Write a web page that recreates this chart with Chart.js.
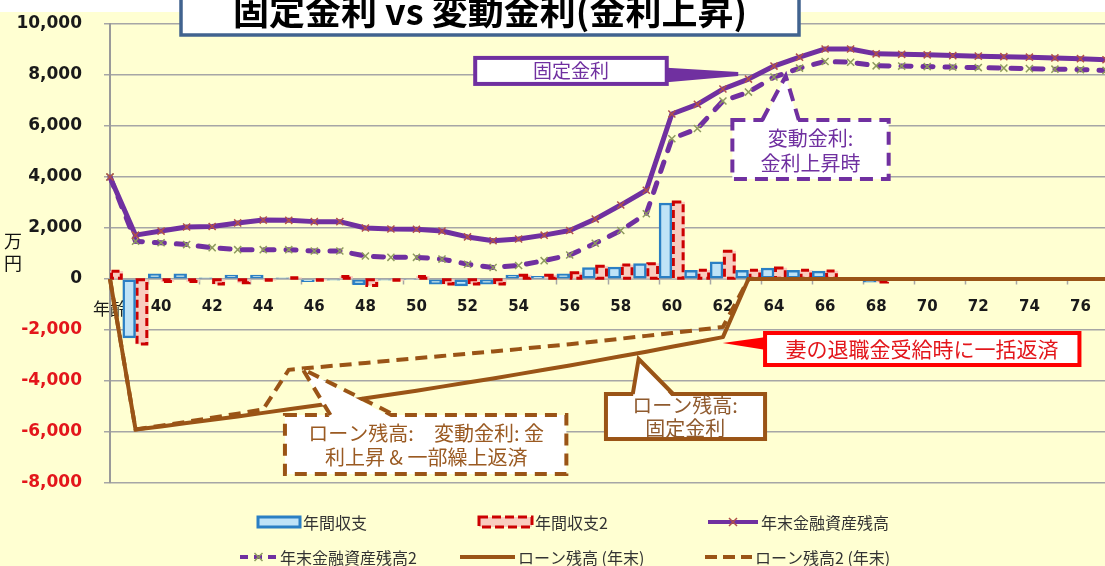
<!DOCTYPE html>
<html lang="ja">
<head>
<meta charset="utf-8">
<script src="https://cdn.jsdelivr.net/npm/chart.js@4.4.1/dist/chart.umd.min.js"></script>
<style>
  html, body { margin: 0; padding: 0; background: #fff; overflow: hidden; }
  #wrap { width: 1105px; height: 566px; overflow: hidden; position: relative; }
  canvas { display: block; }
</style>
</head>
<body>
<div id="wrap"><canvas id="chart" width="1120" height="566"></canvas></div>
<script>
// ages 38..77 (first category is the "年齢" heading)
const ageLabels = ['年齢', '39', '40', '41', '42', '43', '44', '45', '46', '47',
  '48', '49', '50', '51', '52', '53', '54', '55', '56', '57',
  '58', '59', '60', '61', '62', '63', '64', '65', '66', '67',
  '68', '69', '70', '71', '72', '73', '74', '75', '76', '77'];

// 年間収支 (万円)
const balance = [300, -2310, 200, 200, 50, 150, 150, 50, -100, -50,
  -220, -50, -30, -200, -270, -200, 150, 100, 200, 450,
  470, 600, 2980, 340, 670, 340, 430, 340, 310, 0,
  -120, 0, 0, 0, 0, 0, 0, 0, 0, 0];
// 年間収支2
const balance2 = [300, -2550, -100, -100, -200, -150, -50, 50, -50, 100,
  -250, -50, 100, -200, -200, -200, 150, 150, 250, 500,
  550, 600, 3020, 340, 1090, 340, 430, 340, 310, 0,
  -120, 0, 0, 0, 0, 0, 0, 0, 0, 0];
// 年末金融資産残高
const assets = [4000, 1720, 1880, 2040, 2060, 2200, 2310, 2300, 2250, 2250,
  2000, 1960, 1950, 1880, 1650, 1500, 1570, 1720, 1900, 2350,
  2900, 3480, 6470, 6850, 7450, 7840, 8350, 8700, 9020, 9020,
  8830, 8810, 8790, 8760, 8740, 8720, 8700, 8670, 8640, 8600];
// 年末金融資産残高2
const assets2 = [4000, 1480, 1420, 1350, 1230, 1150, 1150, 1150, 1100, 1100,
  900, 850, 850, 780, 580, 450, 530, 720, 940, 1400,
  1900, 2560, 5500, 5900, 6980, 7330, 7920, 8270, 8530, 8500,
  8360, 8350, 8330, 8310, 8290, 8270, 8250, 8230, 8210, 8180];
// ローン残高 (年末)
const loan = [0, -5900, -5780, -5650, -5520, -5390, -5250, -5110, -4970, -4830,
  -4680, -4530, -4380, -4220, -4060, -3900, -3730, -3560, -3390, -3210,
  -3030, -2850, -2660, -2470, -2280, 0, 0, 0, 0, 0,
  0, 0, 0, 0, 0, 0, 0, 0, 0, 0];
// ローン残高2 (年末)
const loan2 = [0, -5900, -5750, -5600, -5440, -5280, -5110, -3560, -3470, -3380,
  -3290, -3200, -3110, -3020, -2930, -2840, -2750, -2650, -2560, -2450,
  -2340, -2230, -2120, -2000, -1880, 0, 0, 0, 0, 0,
  0, 0, 0, 0, 0, 0, 0, 0, 0, 0];

const FIRST_AGE = 38;
const BG = '#FFFFD2';
const GRID = '#A6A6A6';
const PURPLE = '#7030A0';
const BROWN = '#9A5416';
const RED = '#E3161B';
const BLUE = '#2A7FC4';
const CJK = '"Noto Sans CJK JP", "Noto Sans CJK SC", sans-serif';

// callouts, anchored in (age, value) coordinates
const callouts = [
  { box: [52.3, 8670, 59.8, 7650], color: PURPLE, lw: 4, dash: [],
    wedge: [[59.8, 8280], [62.6, 8120], [62.6, 7960], [59.8, 7720]],
    lines: [['固定金利', 56.05, 8160]], textColor: PURPLE, size: 19 },
  { box: [62.37, 6235, 68.49, 3922], color: PURPLE, lw: 4, dash: [13, 8],
    pointer: [[63.54, 6235], [64.46, 7961], [64.97, 6235]],
    lines: [['変動金利:', 65.43, 5529], ['金利上昇時', 65.43, 4549]], textColor: PURPLE, size: 20 },
  { box: [63.65, -2118, 75.96, -3373], color: '#FF0000', lw: 4, dash: [],
    wedge: [[63.7, -2275], [61.99, -2510], [63.7, -2784]],
    lines: [['妻の退職金受給時に一括返済', 69.8, -2745]], textColor: RED, size: 21 },
  { box: [57.42, -4510, 63.65, -6275], color: BROWN, lw: 4, dash: [],
    pointer: [[58.47, -4510], [58.70, -3137], [60.05, -4510]],
    lines: [['ローン残高:', 60.52, -4941], ['固定金利', 60.52, -5843]], textColor: '#8F5A2E', size: 20 },
  { box: [44.85, -5333, 55.87, -7647], color: BROWN, lw: 4, dash: [12, 8],
    pointer: [[46.63, -5333], [45.54, -3529], [49.14, -5333]],
    lines: [['ローン残高:　変動金利: 金', 50.38, -6039], ['利上昇 & 一部繰上返済', 50.38, -6980]],
    textColor: '#9A5A22', size: 20 }
];

const legendItems = [
  { text: '年間収支', x: 258, y: 522, w: 42, kind: 'bar' },
  { text: '年間収支2', x: 479, y: 522, w: 53, kind: 'dashbar' },
  { text: '年末金融資産残高', x: 708, y: 522, w: 50, kind: 'line', color: PURPLE, dash: [], marker: '#B0504A' },
  { text: '年末金融資産残高2', x: 240, y: 557, w: 37, kind: 'line', color: PURPLE, dash: [8, 6], marker: '#8E9A5E' },
  { text: 'ローン残高 (年末)', x: 460, y: 557, w: 55, kind: 'line', color: BROWN, dash: [] },
  { text: 'ローン残高2 (年末)', x: 705, y: 557, w: 47, kind: 'line', color: BROWN, dash: [12, 6] }
];

const background = {
  id: 'background',
  beforeDraw(chart) {
    const { ctx, width, height } = chart;
    ctx.save();
    ctx.fillStyle = '#fff';
    ctx.fillRect(0, 0, width, height);
    ctx.fillStyle = BG;
    ctx.fillRect(0, 12, width, height - 12);
    ctx.restore();
  }
};

// dashed outline for the 年間収支2 bars
const dashedBars = {
  id: 'dashedBars',
  afterDatasetDraw(chart, args) {
    const ds = chart.data.datasets[args.index];
    if (!ds.dashedBorder) return;
    const { ctx, chartArea: a } = chart;
    ctx.save();
    ctx.beginPath();
    ctx.rect(a.left, a.top, a.right - a.left, a.bottom - a.top);
    ctx.clip();
    ctx.strokeStyle = ds.dashedBorder;
    ctx.lineWidth = 3;
    ctx.setLineDash([8, 4]);
    args.meta.data.forEach((bar, i) => {
      if (!ds.data[i]) return;
      const p = bar.getProps(['x', 'y', 'base', 'width'], true);
      const l = p.x - p.width / 2 + 1.5;
      const top = Math.min(p.y, p.base), bot = Math.max(p.y, p.base);
      ctx.strokeRect(l, top, p.width - 3, bot - top);
    });
    ctx.restore();
  }
};

function drawCallout(ctx, c, X, Y) {
  const x1 = X(c.box[0]), y1 = Y(c.box[1]), x2 = X(c.box[2]), y2 = Y(c.box[3]);
  ctx.save();
  ctx.lineWidth = c.lw;
  ctx.strokeStyle = c.color;
  ctx.setLineDash(c.dash);
  ctx.fillStyle = '#fff';
  ctx.fillRect(x1, y1, x2 - x1, y2 - y1);
  ctx.strokeRect(x1, y1, x2 - x1, y2 - y1);
  if (c.wedge) {
    ctx.fillStyle = c.color;
    ctx.beginPath();
    c.wedge.forEach(([a, v], i) => i ? ctx.lineTo(X(a), Y(v)) : ctx.moveTo(X(a), Y(v)));
    ctx.closePath();
    ctx.fill();
  }
  if (c.pointer) {
    const [b1, tip, b2] = c.pointer.map(([a, v]) => [X(a), Y(v)]);
    ctx.fillStyle = '#fff';
    ctx.beginPath();
    ctx.moveTo(b1[0], b1[1] + c.lw);
    ctx.lineTo(tip[0], tip[1]);
    ctx.lineTo(b2[0], b2[1] + c.lw);
    ctx.closePath();
    ctx.fill();
    ctx.beginPath();
    ctx.moveTo(b1[0], b1[1]);
    ctx.lineTo(tip[0], tip[1]);
    ctx.lineTo(b2[0], b2[1]);
    ctx.stroke();
  }
  ctx.setLineDash([]);
  ctx.fillStyle = c.textColor;
  ctx.font = c.size + 'px ' + CJK;
  ctx.textAlign = 'center';
  ctx.textBaseline = 'middle';
  c.lines.forEach(([t, a, v]) => ctx.fillText(t, X(a), Y(v)));
  ctx.restore();
}

function drawCross(ctx, x, y, r, color) {
  ctx.save();
  ctx.setLineDash([]);
  ctx.strokeStyle = color;
  ctx.lineWidth = 1.5;
  ctx.beginPath();
  ctx.moveTo(x - r, y - r); ctx.lineTo(x + r, y + r);
  ctx.moveTo(x - r, y + r); ctx.lineTo(x + r, y - r);
  ctx.stroke();
  ctx.restore();
}

const decorations = {
  id: 'decorations',
  afterDraw(chart) {
    const { ctx } = chart;
    const xs = chart.scales.x, ys = chart.scales.y;
    const X = age => xs.getPixelForValue(age - FIRST_AGE);
    const Y = v => ys.getPixelForValue(v);
    callouts.forEach(c => drawCallout(ctx, c, X, Y));

    ctx.save();
    // title box
    ctx.fillStyle = '#fff';
    ctx.strokeStyle = '#41638F';
    ctx.lineWidth = 3.5;
    ctx.fillRect(181, -6, 618, 41);
    ctx.strokeRect(181, -6, 618, 41);
    ctx.fillStyle = '#000';
    ctx.font = 'bold 36px ' + CJK;
    ctx.textAlign = 'center';
    ctx.textBaseline = 'middle';
    ctx.fillText('固定金利 vs 変動金利(金利上昇)', 490, 11);

    // unit label
    ctx.font = '18px ' + CJK;
    ctx.fillStyle = '#111';
    ctx.fillText('万', 13, 241);
    ctx.fillText('円', 13, 263);

    // legend
    ctx.textAlign = 'left';
    ctx.font = '16px ' + CJK;
    legendItems.forEach(it => {
      ctx.save();
      if (it.kind === 'bar') {
        ctx.fillStyle = '#BFE3F7';
        ctx.fillRect(it.x, it.y - 5, it.w, 10);
        ctx.strokeStyle = BLUE;
        ctx.lineWidth = 3;
        ctx.strokeRect(it.x, it.y - 5, it.w, 10);
      } else if (it.kind === 'dashbar') {
        ctx.fillStyle = '#F9CDBF';
        ctx.fillRect(it.x, it.y - 5, it.w, 10);
        ctx.strokeStyle = '#CC0000';
        ctx.lineWidth = 3;
        ctx.setLineDash([9, 4]);
        ctx.strokeRect(it.x, it.y - 5, it.w, 10);
      } else {
        ctx.strokeStyle = it.color;
        ctx.lineWidth = 4;
        ctx.setLineDash(it.dash);
        ctx.beginPath();
        ctx.moveTo(it.x, it.y);
        ctx.lineTo(it.x + it.w, it.y);
        ctx.stroke();
        if (it.marker) drawCross(ctx, it.x + it.w / 2, it.y, 4, it.marker);
      }
      ctx.restore();
      ctx.fillStyle = '#333';
      ctx.fillText(it.text, it.x + it.w + 3, it.y + 1);
    });
    ctx.restore();
  }
};

new Chart(document.getElementById('chart'), {
  type: 'bar',
  data: {
    labels: ageLabels,
    datasets: [
      { type: 'bar', label: '年間収支', data: balance, order: 9,
        backgroundColor: '#BFE3F7', borderColor: BLUE,
        borderWidth: c => (c.raw ? 2.5 : 0), borderSkipped: false,
        categoryPercentage: 1, barPercentage: 1, clip: 0 },
      { type: 'bar', label: '年間収支2', data: balance2, order: 10,
        backgroundColor: '#F9CDBF', borderWidth: 0, dashedBorder: '#CC0000',
        categoryPercentage: 1, barPercentage: 1, clip: 0 },
      { type: 'line', label: 'ローン残高2 (年末)', data: loan2, order: 4,
        borderColor: BROWN, borderWidth: 4, borderDash: [12, 7], pointRadius: 0, tension: 0 },
      { type: 'line', label: 'ローン残高 (年末)', data: loan, order: 3,
        borderColor: BROWN, borderWidth: 4, pointRadius: 0, tension: 0, borderJoinStyle: 'round' },
      { type: 'line', label: '年末金融資産残高2', data: assets2, order: 2,
        borderColor: PURPLE, borderWidth: 5, borderDash: [10, 12], borderCapStyle: 'round',
        pointStyle: 'crossRot', pointRadius: 5, pointBorderWidth: 1.5,
        pointBorderColor: '#8E9A5E', pointBackgroundColor: 'rgba(0,0,0,0)', tension: 0 },
      { type: 'line', label: '年末金融資産残高', data: assets, order: 1,
        borderColor: PURPLE, borderWidth: 5, borderJoinStyle: 'round',
        pointStyle: 'crossRot', pointRadius: 5, pointBorderWidth: 1.5,
        pointBorderColor: '#B0504A', pointBackgroundColor: 'rgba(0,0,0,0)', tension: 0 }
    ]
  },
  options: {
    responsive: false,
    animation: false,
    events: [],
    layout: { padding: { top: 24, bottom: 83, left: 0, right: 2 } },
    plugins: { legend: { display: false }, tooltip: { enabled: false } },
    scales: {
      x: {
        type: 'category',
        position: { y: 0 },
        offset: false,
        grid: {
          display: true, drawOnChartArea: false, tickLength: 5, tickWidth: 1.5,
          tickColor: c => (c.index % 2 === 0 ? GRID : 'rgba(0,0,0,0)')
        },
        border: { display: true, color: GRID, width: 1.5 },
        ticks: {
          autoSkip: false, maxRotation: 0, minRotation: 0, padding: 14,
          color: '#1a1a1a',
          callback: (v, i) => (i % 2 === 0 ? ageLabels[i] : ''),
          font: c => (c.index === 0
            ? { family: CJK, size: 17, weight: 'normal' }
            : { family: 'DejaVu Sans', size: 15, weight: 'bold' })
        }
      },
      y: {
        min: -8000, max: 10000,
        afterFit: s => { s.width = 110; s.paddingTop = 0; s.paddingBottom = 0; },
        grid: { color: GRID, lineWidth: 1.5, tickLength: 6 },
        border: { display: true, color: '#9A9A9A', width: 2 },
        ticks: {
          stepSize: 2000, padding: 22,
          color: c => (c.tick.value < 0 ? RED : '#1a1a1a'),
          font: { family: 'DejaVu Sans', size: 17, weight: 'bold' },
          callback: v => v.toLocaleString('en-US')
        }
      }
    }
  },
  plugins: [background, dashedBars, decorations]
});
</script>
</body>
</html>
